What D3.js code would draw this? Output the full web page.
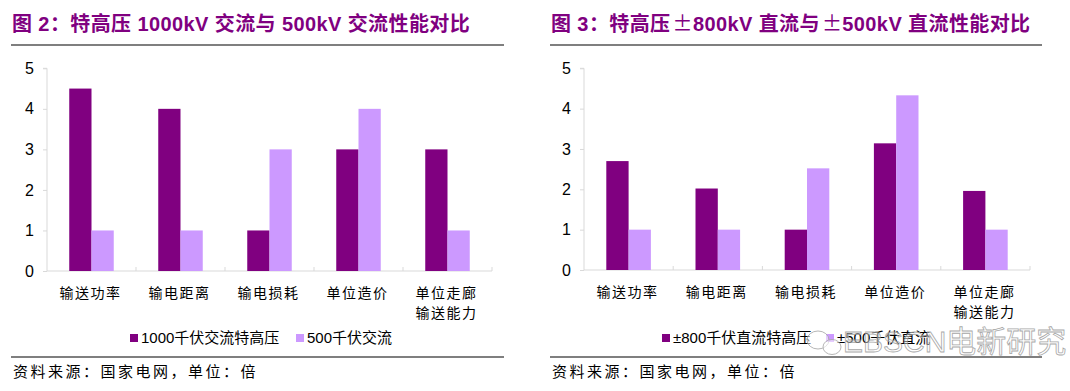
<!DOCTYPE html>
<html><head><meta charset="utf-8">
<script src="https://cdn.jsdelivr.net/npm/d3@7"></script>
<style>body{margin:0;background:#fff}svg{display:block}</style>
</head><body><svg id="c" width="1070" height="391"></svg>
<script>
const categories = [["输送功率"],["输电距离"],["输电损耗"],["单位造价"],["单位走廊","输送能力"]];
const yTicks = [0,1,2,3,4,5];
const acTitle = ["图 2：特高压 1000kV 交流与 500kV 交流性能对比"];
const acSeriesNames = ["1000千伏交流特高压","500千伏交流"];
const acUHV = [4.5, 4.0, 1.0, 3.0, 3.0];
const ac500 = [1.0, 1.0, 3.0, 4.0, 1.0];
const dcTitle = ["图 3：特高压","±","800kV 直流与","±","500kV 直流性能对比"];
const dcSeriesNames = ["±800千伏直流特高压","±500千伏直流"];
const dcUHV = [2.7, 2.02, 1.0, 3.14, 1.96];
const dc500 = [1.0, 1.0, 2.52, 4.33, 1.0];
const source = "资料来源：国家电网，单位：倍";
const colors = ["#800080","#CC99FF"];

const svg = d3.select("#c");
const cjk = "'Noto Sans CJK SC', sans-serif";
const latin = "'Liberation Sans', Arial, 'Noto Sans CJK SC', sans-serif";

function drawPanel(o){
  const g = svg.append("g");
  const tt = g.append("text").attr("x",o.x0+1).attr("y",31)
    .attr("fill","#800080").attr("font-weight","bold").attr("font-size",20).attr("letter-spacing",0.4)
    .attr("font-family",latin);
  o.title.forEach(p=>{
    const ts = tt.append("tspan").text(p);
    if(p==="±") ts.attr("font-family",cjk).attr("font-weight","normal").attr("dx",2);
  });
  g.append("line").attr("x1",o.x0).attr("x2",o.x0+o.ruleW).attr("y1",45).attr("y2",45)
    .attr("stroke","#000").attr("stroke-width",1.2);
  const x = d3.scaleBand().domain(d3.range(categories.length)).range([o.axX, o.axEnd]).paddingInner(0).paddingOuter(0);
  const y = d3.scaleLinear().domain([0,5]).range([o.y0, 68.3]);
  const ya = g.append("g").attr("transform",`translate(${o.axX},0)`)
    .call(d3.axisLeft(y).tickValues(yTicks).tickSize(4).tickPadding(9).tickFormat(d3.format("d")));
  ya.select(".domain").attr("stroke","#d9d9d9").attr("d",`M-4,${y(5)}H0V${y(0)}`);
  ya.selectAll(".tick line").attr("stroke","#d9d9d9");
  ya.selectAll(".tick text").attr("font-size",16).attr("font-family",latin).attr("fill","#000");
  const xa = g.append("g").attr("transform",`translate(0,${o.y0})`)
    .call(d3.axisBottom(x).tickSize(0).tickFormat(""));
  xa.select(".domain").attr("stroke","#d9d9d9").attr("d",`M${o.axX},0H${o.axEnd}`);
  xa.selectAll(".tick").remove();
  d3.range(1,categories.length+1).forEach(i=>{
    g.append("line").attr("x1",o.axX+x.step()*i).attr("x2",o.axX+x.step()*i)
      .attr("y1",o.y0).attr("y2",o.y0-4).attr("stroke","#d9d9d9");
  });
  const bw = x.bandwidth()*0.25;
  [o.s1,o.s2].forEach((s,si)=>{
    g.selectAll(null).data(s).enter().append("rect")
      .attr("x",(d,i)=>x(i)+x.bandwidth()/2 + (si-1)*bw)
      .attr("width",bw).attr("y",d=>y(d)).attr("height",d=>y(0)-y(d))
      .attr("fill",colors[si]);
  });
  categories.forEach((lines,i)=>{
    lines.forEach((t,li)=>{
      g.append("text").attr("x",x(i)+x.bandwidth()/2-1).attr("y",o.y0+27+li*20)
        .attr("text-anchor","middle").attr("font-size",14).attr("letter-spacing",1.5)
        .attr("font-family",cjk).attr("fill","#000").text(t);
    });
  });
  o.names.forEach((n,i)=>{
    g.append("rect").attr("x",o.legX[i]).attr("y",334).attr("width",8).attr("height",8).attr("fill",colors[i]);
    g.append("text").attr("x",o.legX[i]+11).attr("y",343).attr("font-size",15)
      .attr("font-family",latin).attr("fill","#000").text(n);
  });
  g.append("line").attr("x1",o.x0).attr("x2",o.x0+o.ruleW).attr("y1",357).attr("y2",357)
    .attr("stroke","#000").attr("stroke-width",1.2);
  g.append("text").attr("x",o.x0+2).attr("y",377).attr("font-size",15).attr("letter-spacing",2.5)
    .attr("font-family",cjk).attr("fill","#000").text(source);
}

drawPanel({x0:11, ruleW:493, title:acTitle, axX:47, axEnd:492, y0:271, s1:acUHV, s2:ac500, names:acSeriesNames, legX:[130,296]});
drawPanel({x0:550, ruleW:492, title:dcTitle, axX:584, axEnd:1030, y0:270, s1:dcUHV, s2:dc500, names:dcSeriesNames, legX:[662,826]});

const wm = svg.append("g").attr("opacity",0.85);
wm.append("ellipse").attr("cx",818).attr("cy",340).attr("rx",11).attr("ry",9).attr("fill","rgba(255,255,255,0.6)").attr("stroke","#aaa");
wm.append("ellipse").attr("cx",832).attr("cy",347).attr("rx",9).attr("ry",7.5).attr("fill","rgba(255,255,255,0.6)").attr("stroke","#aaa");
wm.append("text").attr("x",843).attr("y",352).attr("font-size",30).attr("font-family",latin)
  .attr("fill","rgba(255,255,255,0.5)").attr("stroke","#999").attr("stroke-width",0.8).text("EBSCN电新研究");
</script></body></html>
